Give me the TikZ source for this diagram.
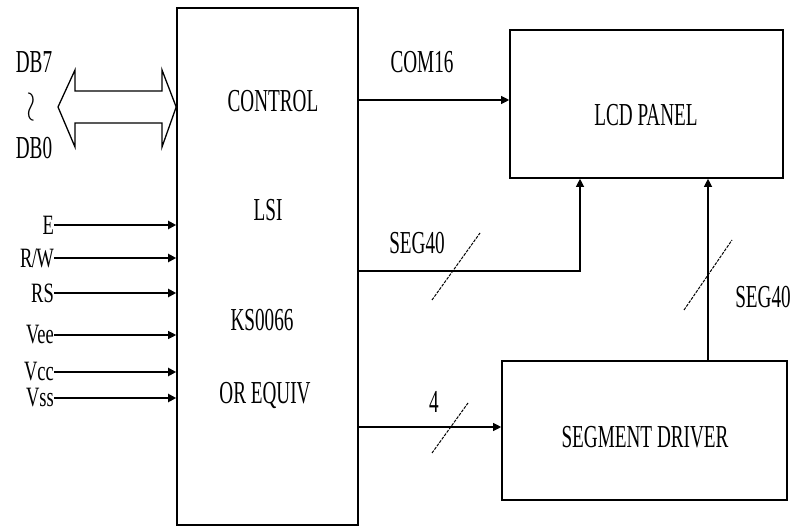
\documentclass[tikz,border=0pt]{standalone}
\usepackage{fontspec}
\usepackage{graphicx}
\setmainfont{Liberation Serif}
\usetikzlibrary{arrows.meta}
\newcommand\cnd[1]{\scalebox{0.6}[1]{#1}}
\begin{document}
\begin{tikzpicture}[x=1pt,y=-1pt,
  box/.style={draw,line width=1.6pt},
  lbl/.style={inner sep=0pt,font=\fontsize{32}{32}\selectfont},
  inl/.style={inner sep=0pt,font=\fontsize{28}{28}\selectfont},
  sig/.style={line width=2pt,-{Triangle[length=8pt,width=8pt]}},
  thin/.style={line width=1.1pt,-{Triangle[length=8pt,width=8pt]}},
  slashln/.style={line width=1pt,dash pattern=on 3pt off 1.2pt}]
\useasboundingbox (0,0) rectangle (795,529);
% boxes
\node[box,minimum width=181pt,minimum height=517pt,inner sep=0pt] (lsi) at (267.5,266.5) {};
\node[box,minimum width=273pt,minimum height=148pt,inner sep=0pt] (lcd) at (646.5,104) {};
\node[box,minimum width=285pt,minimum height=139pt,inner sep=0pt] (seg) at (644.5,430.5) {};
% texts inside
\node[lbl] (t1) at (273,101) {\cnd{CONTROL}};
\node[lbl] (t2) at (268,210) {\cnd{LSI}};
\node[lbl] (t3) at (262,320) {\cnd{KS0066}};
\node[lbl] (t4) at (265,395) {\cnd{OR EQUIV}};
\node[lbl] (t5) at (646,115) {\cnd{LCD PANEL}};
\node[lbl] (t6) at (645,437) {\cnd{SEGMENT DRIVER}};
% outputs
\coordinate (c1) at (lsi.east |- 0,100);
\draw[thin] (c1) -- (lcd.west |- c1);
\node[lbl] (lc) at (422,62) {\cnd{COM16}};
\coordinate (c2) at (lsi.east |- 0,271);
\coordinate (c2b) at (580,271);
\draw[thin] (c2) -- (c2b) -- (c2b |- lcd.south);
\draw[slashln] (432,300) -- (480,233);
\node[lbl] (ls1) at (417,243) {\cnd{SEG40}};
\coordinate (c3) at (708,0);
\draw[thin] (c3 |- seg.north) -- (c3 |- lcd.south);
\draw[slashln] (684,310) -- (732,240);
\node[lbl] (ls2) at (763,297) {\cnd{SEG40}};
\coordinate (c4) at (lsi.east |- 0,427);
\draw[thin] (c4) -- (seg.west |- c4);
\draw[slashln] (432,453) -- (468,403);
\node[lbl] (l4) at (434,402) {\cnd{4}};
% bus double arrow
\coordinate (bl) at (58,107);
\coordinate (br) at (lsi.west |- bl);
\draw[line width=1.3pt,fill=white] (bl) -- (75,70) -- (75,91) -- (162,91) -- (162,70) -- (br) -- (162,147) -- (162,123) -- (75,123) -- (75,147) -- cycle;
\node[lbl] (db7) at (34,62) {\cnd{DB7}};
\node[lbl,font=\fontsize{30}{30}\selectfont] (wav) at (33,107) {\rotatebox{90}{\scalebox{1.7}[1]{$\sim$}}};
\node[lbl] (db0) at (34,148) {\cnd{DB0}};
% inputs
\foreach \y/\t/\s/\n in {225/E/sig/a,258/{R\kern-1pt/\kern-1pt W}/sig/b,293/RS/sig/c,335/Vee/thin/d,372/Vcc/sig/e,398/Vss/sig/f}{
  \node[inl,anchor=east] (in\n) at (54,\y) {\scalebox{0.66}[1]{\t}};
  \draw[\s] (in\n.east) -- (lsi.west |- in\n.east);
}
\end{tikzpicture}
\end{document}
